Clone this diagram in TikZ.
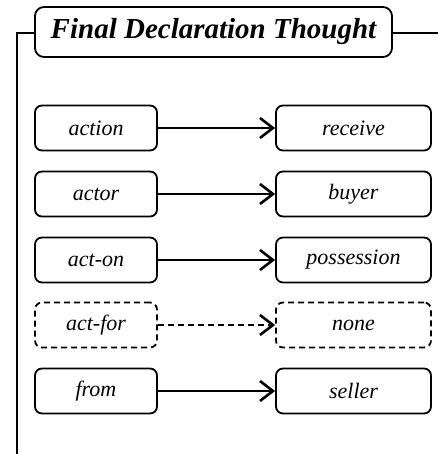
\documentclass[tikz,border=0pt]{standalone}
\usepackage{fontspec}
\setmainfont{Liberation Serif}
\usetikzlibrary{arrows.meta}

\tikzset{
  slotbox/.style={draw, line width=1.8pt, rounded corners=7pt, minimum height=45pt,
    inner sep=0pt, font=\fontsize{22}{25}\selectfont\itshape},
  namebox/.style={slotbox, minimum width=122pt},
  fillbox/.style={slotbox, minimum width=155pt},
  link/.style={line width=2.6pt, -{Straight Barb[length=13pt,width=20pt,line width=2.6pt]}},
  maybe/.style={dash pattern=on 6pt off 4pt}
}

\begin{document}
\begin{tikzpicture}[x=1pt,y=-1pt]

\useasboundingbox (0,0) rectangle (438,454);

\node[draw, line width=1.8pt, rounded corners=9pt, minimum width=357pt, minimum height=50pt,
  inner sep=0pt, font=\fontsize{29}{33}\selectfont\bfseries\itshape]
  (title) at (213.5,32) {Final Declaration Thought};

\coordinate (bottom) at (17,454);
\coordinate (corner) at (17,33);
\coordinate (edge) at (438,33);

\draw[line width=2pt] (bottom) -- (corner) -- (corner -| title.west);
\draw[line width=2pt] (title.east |- edge) -- (edge);

\node[namebox] (action) at (96,128) {action};
\node[fillbox] (receive) at (353.5,128) {receive};

\node[namebox] (actor) at (96,194) {actor};
\node[fillbox] (buyer) at (353.5,194) {buyer};

\node[namebox] (acton) at (96,260) {act-on};
\node[fillbox] (possession) at (353.5,260) {possession};

\node[namebox, maybe] (actfor) at (96,325) {act-for};
\node[fillbox, maybe] (none) at (353.5,325) {none};

\node[namebox] (from) at (96,391) {from};
\node[fillbox] (seller) at (353.5,391) {seller};

\draw[link] (action) -- (receive);
\draw[link] (actor) -- (buyer);
\draw[link] (acton) -- (possession);
\draw[link, maybe] (actfor) -- (none);
\draw[link] (from) -- (seller);

\end{tikzpicture}
\end{document}
